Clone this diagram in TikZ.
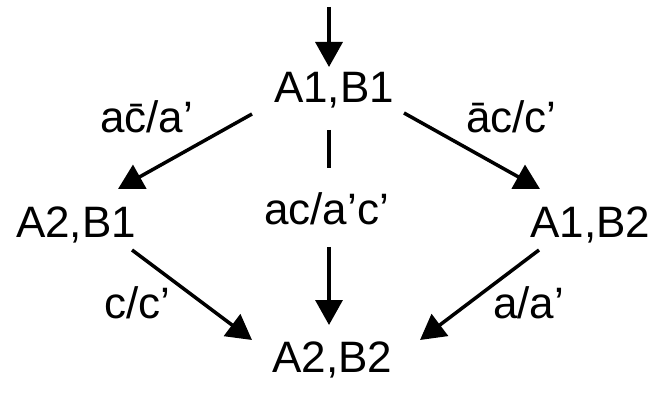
\documentclass[tikz,border=0pt]{standalone}
\usepackage{fontspec}
\setmainfont{Liberation Sans}
\usepackage{tikz}
\usetikzlibrary{arrows.meta,calc}
\tikzset{
  st/.style={inner sep=0pt,anchor=base,font=\fontsize{44}{52}\selectfont},
  lbl/.style={inner sep=0pt,anchor=base,font=\fontsize{44}{52}\selectfont},
  ln/.style={line width=3.5pt},
  arr/.style={-{Triangle[length=25pt,width=27pt]},line width=3.5pt},
}
\begin{document}
\begin{tikzpicture}[x=1pt,y=1pt]
\useasboundingbox (0,0) rectangle (663,399);
\coordinate (in) at (329,392);
\node[st] (s1) at (334,296) {A1,B1};
\node[st] (s2) at (76,161) {A2,B1};
\node[st] (s3) at (590.5,161) {A1,B2};
\node[st] (s4) at (332.5,27) {A2,B2};
\node[lbl] (l12) at (146.5,266) {a\=c/a'};
\node[lbl] (l13) at (511.5,266) {\=ac/c'};
\node[lbl] (l14) at (326.5,174) {ac/a'c'};
\node[lbl] (l24) at (137.5,81) {c/c'};
\node[lbl] (l34) at (528.5,81) {a/a'};
\draw[arr] (in) -- ($(s1.base)+(-5,36)$);
\draw[arr] ($(s1.base)+(-82,-11)$) -- ($(s2.base)+(42,49)$);
\draw[arr] ($(s1.base)+(70,-10)$) -- ($(s3.base)+(-50.5,49)$);
\draw[ln] ($(s1.base)+(-5,-27)$) -- ($(l14.base)+(2.5,57)$);
\draw[arr] ($(l14.base)+(2.5,-22)$) -- ($(s4.base)+(-3.5,47)$);
\draw[arr] ($(s2.base)+(56,-12)$) -- ($(s4.base)+(-80.5,32)$);
\draw[arr] ($(s3.base)+(-51.5,-12)$) -- ($(s4.base)+(87.5,32)$);
\end{tikzpicture}
\end{document}
